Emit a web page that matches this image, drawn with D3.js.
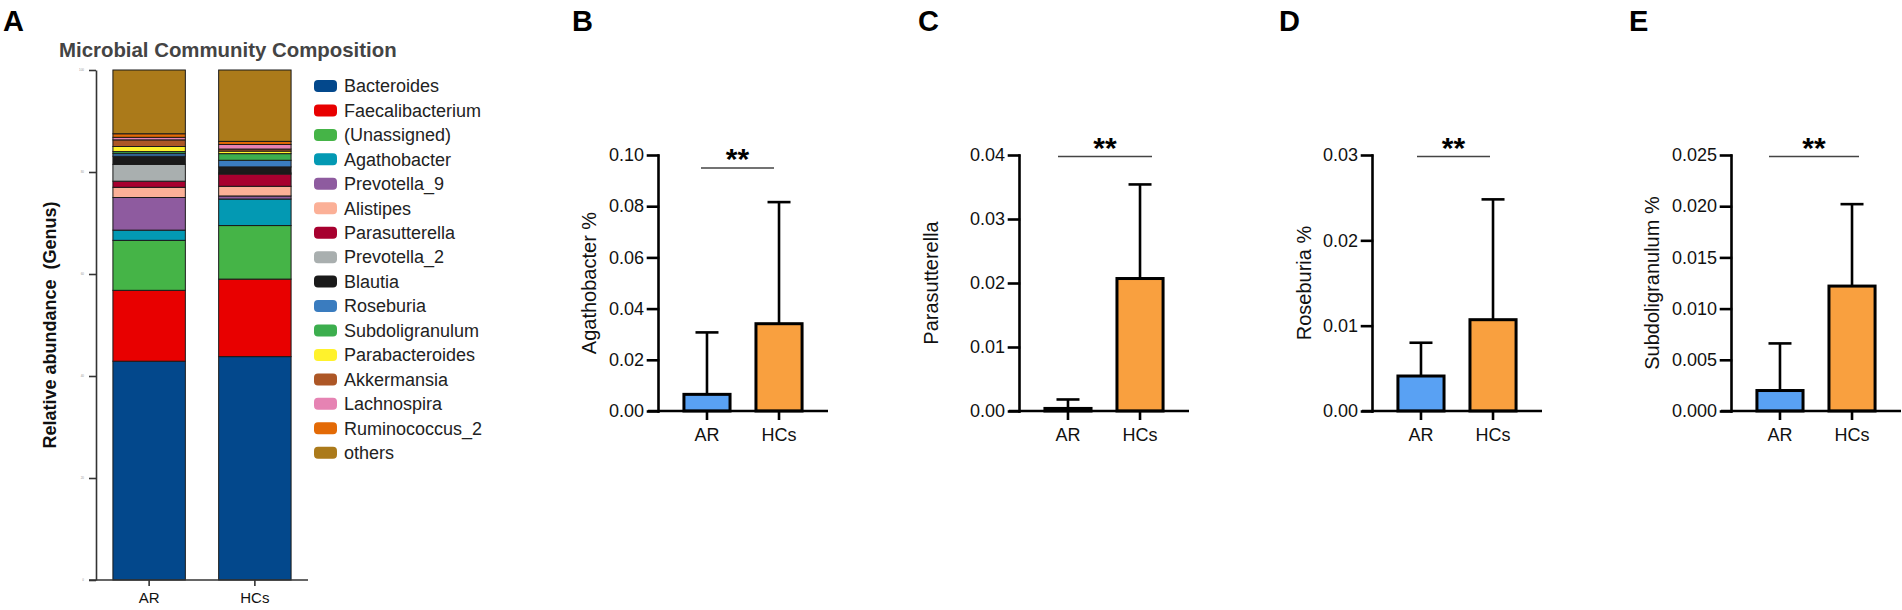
<!DOCTYPE html>
<html>
<head>
<meta charset="utf-8">
<script src="https://cdn.jsdelivr.net/npm/d3@7"></script>
<style>
  body { margin: 0; background: #fff; }
  #fig { width: 1902px; height: 610px; }
  text { font-family: "Liberation Sans", Arial, Helvetica, sans-serif; }
</style>
</head>
<body>
<div id="fig"></div>
<script>
var groups = ["AR", "HCs"];

// Panel A: genus composition (%), bottom of the stack first
var genera = ["Bacteroides", "Faecalibacterium", "(Unassigned)", "Agathobacter", "Prevotella_9",
  "Alistipes", "Parasutterella", "Prevotella_2", "Blautia", "Roseburia", "Subdoligranulum",
  "Parabacteroides", "Akkermansia", "Lachnospira", "Ruminococcus_2", "others"];
var arAbund = [42.9, 13.9, 9.8, 2.0, 6.4, 2.0, 1.2, 3.3, 1.6, 0.5, 0.4, 1.0, 1.3, 0.5, 0.7, 12.5];
var hcAbund = [43.8, 15.2, 10.5, 5.2, 0.6, 1.9, 2.4, 0.2, 1.2, 1.3, 1.3, 0.5, 0.4, 0.9, 0.6, 14.0];
var aTicks = [0, 20, 40, 60, 80, 100];
var genusColors = ["#03488c", "#e80000", "#45b447", "#0399b3", "#8e5b9f", "#fbb097", "#a7002f",
  "#a9afaf", "#1a1a1a", "#3a7cbf", "#3cae4e", "#fff22c", "#ad5726", "#e683b3", "#e36a06", "#ab7a1a"];

// Panels B-E: mean and SD of each genus per group
var panelLetters = ["B", "C", "D", "E"];
var panelLabels = ["Agathobacter %", "Parasutterella", "Roseburia %", "Subdoligranulum %"];
var arMean = [0.0065, 0.0004, 0.0041, 0.0020];
var hcMean = [0.0341, 0.0207, 0.0107, 0.0122];
var arSD = [0.0242, 0.0014, 0.0039, 0.0046];
var hcSD = [0.0475, 0.0147, 0.0141, 0.0080];
var yMax = [0.10, 0.04, 0.03, 0.025];
var yStep = [0.02, 0.01, 0.01, 0.005];
var yDigits = [2, 2, 2, 3];
var sigMarks = ["**", "**", "**", "**"];

var groupColors = ["#59a1f3", "#f9a03f"];

var svg = d3.select("#fig").append("svg")
  .attr("width", 1902)
  .attr("height", 610);

// ---------- panel A ----------
var aTop = 70, aBottom = 580, aLeft = 96, aRight = 308;
var aY = d3.scaleLinear().domain([0, 100]).range([aBottom, aTop]);
var aX = d3.scaleBand().domain(groups).range([aLeft, aRight]).paddingInner(0.315).paddingOuter(0.16);

var rows = groups.map(function (g, gi) {
  var r = { group: g };
  genera.forEach(function (k, i) { r[k] = gi === 0 ? arAbund[i] : hcAbund[i]; });
  return r;
});
var stacked = d3.stack().keys(genera)(rows);

svg.append("g").selectAll("g")
  .data(stacked)
  .enter().append("g")
  .attr("fill", function (d, i) { return genusColors[i]; })
  .selectAll("rect")
  .data(function (d) { return d; })
  .enter().append("rect")
  .attr("x", function (d) { return aX(d.data.group); })
  .attr("width", aX.bandwidth())
  .attr("y", function (d) { return aY(d[1]); })
  .attr("height", function (d) { return aY(d[0]) - aY(d[1]); })
  .attr("stroke", "#1a1a1a")
  .attr("stroke-width", 1);

// the original tick labels are printed so small they read as grey dots
var aYAxis = svg.append("g")
  .attr("transform", "translate(" + aLeft + ",0)")
  .call(d3.axisLeft(aY).tickValues(aTicks).tickSize(7).tickSizeOuter(0).tickPadding(5));
aYAxis.selectAll("path, line").attr("stroke", "#333").attr("stroke-width", 1.6);
aYAxis.selectAll("text").attr("font-size", 3).attr("fill", "#999");

var aXAxis = svg.append("g")
  .attr("transform", "translate(0," + aBottom + ")")
  .call(d3.axisBottom(aX).tickSize(6).tickSizeOuter(0));
aXAxis.select(".domain").remove();
aXAxis.append("line").attr("x1", aLeft - 7).attr("x2", aRight)
  .attr("stroke", "#333").attr("stroke-width", 1.6);
aXAxis.selectAll(".tick line").attr("stroke", "#333").attr("stroke-width", 1.6);
aXAxis.selectAll(".tick text")
  .attr("y", 23).attr("dy", null)
  .attr("font-size", 15).attr("fill", "#111");

svg.append("text")
  .attr("x", 3).attr("y", 31)
  .attr("font-size", 29).attr("font-weight", "bold")
  .text("A");

svg.append("text")
  .attr("x", 59).attr("y", 57)
  .attr("font-size", 20.4).attr("font-weight", "bold").attr("fill", "#444")
  .text("Microbial Community Composition");

svg.append("text")
  .attr("transform", "translate(56,325) rotate(-90)")
  .attr("text-anchor", "middle")
  .attr("font-size", 18).attr("font-weight", "bold").attr("fill", "#111")
  .style("white-space", "pre")
  .text("Relative abundance  (Genus)");

// legend
var legend = svg.append("g").selectAll("g")
  .data(genera)
  .enter().append("g")
  .attr("transform", function (d, i) { return "translate(314," + (86 + i * 24.45) + ")"; });
legend.append("rect")
  .attr("x", 0).attr("y", -6)
  .attr("width", 23).attr("height", 12)
  .attr("rx", 4)
  .attr("fill", function (d, i) { return genusColors[i]; });
legend.append("text")
  .attr("x", 30).attr("dy", "0.35em")
  .attr("font-size", 18).attr("fill", "#222")
  .text(function (d) { return d; });

// ---------- panels B-E ----------
var axisX = [658, 1019, 1372, 1731];
var letterX = [572, 918, 1279, 1629];
var labelX = [596, 938, 1311, 1659];
var sigSpan = [[43, 116], [39, 133], [45, 118], [38, 128]];
var sigDrop = [13, 1.5, 1.5, 1.5];
var pTop = 155, pBottom = 411, pWidth = 170;

panelLetters.forEach(function (letter, i) {
  var x0 = axisX[i];
  var y = d3.scaleLinear().domain([0, yMax[i]]).range([pBottom, pTop]);
  var x = d3.scaleBand().domain(groups).range([x0, x0 + pWidth]).paddingInner(0.36).paddingOuter(0.36);
  var g = svg.append("g");
  var means = [arMean[i], hcMean[i]];
  var sds = [arSD[i], hcSD[i]];

  // error bars (upper only)
  var err = g.append("g").selectAll("g")
    .data(groups)
    .enter().append("g");
  err.append("line")
    .attr("x1", function (d) { return x(d) + x.bandwidth() / 2; })
    .attr("x2", function (d) { return x(d) + x.bandwidth() / 2; })
    .attr("y1", function (d, j) { return y(means[j]); })
    .attr("y2", function (d, j) { return y(means[j] + sds[j]); })
    .attr("stroke", "#000").attr("stroke-width", 2.6);
  err.append("line")
    .attr("x1", function (d) { return x(d) + x.bandwidth() / 2 - 11.5; })
    .attr("x2", function (d) { return x(d) + x.bandwidth() / 2 + 11.5; })
    .attr("y1", function (d, j) { return y(means[j] + sds[j]); })
    .attr("y2", function (d, j) { return y(means[j] + sds[j]); })
    .attr("stroke", "#000").attr("stroke-width", 2.6);

  g.append("g").selectAll("rect")
    .data(groups)
    .enter().append("rect")
    .attr("x", function (d) { return x(d); })
    .attr("width", x.bandwidth())
    .attr("y", function (d, j) { return y(means[j]); })
    .attr("height", function (d, j) { return pBottom - y(means[j]); })
    .attr("fill", function (d, j) { return groupColors[j]; })
    .attr("stroke", "#000").attr("stroke-width", 3);

  var ticks = d3.range(0, yMax[i] + yStep[i] / 2, yStep[i]);
  var yAxis = g.append("g")
    .attr("transform", "translate(" + x0 + ",0)")
    .call(d3.axisLeft(y).tickValues(ticks).tickSize(10).tickSizeOuter(0).tickPadding(4)
      .tickFormat(d3.format("." + yDigits[i] + "f")));
  yAxis.selectAll("path, line").attr("stroke", "#000").attr("stroke-width", 2.6)
    .attr("stroke-linecap", "square");
  yAxis.selectAll("text").attr("font-size", 18).attr("fill", "#111")
    .style("font-family", "'Liberation Sans', Arial, sans-serif");

  var xAxis = g.append("g")
    .attr("transform", "translate(0," + pBottom + ")")
    .call(d3.axisBottom(x).tickSize(9).tickSizeOuter(0));
  xAxis.select(".domain").remove();
  xAxis.append("line").attr("x1", x0 - 10).attr("x2", x0 + pWidth)
    .attr("stroke", "#000").attr("stroke-width", 2.6);
  xAxis.selectAll(".tick line").attr("stroke", "#000").attr("stroke-width", 2.6);
  xAxis.selectAll(".tick text")
    .attr("y", 30).attr("dy", null)
    .attr("font-size", 18).attr("fill", "#111")
    .style("font-family", "'Liberation Sans', Arial, sans-serif");

  // significance bracket
  var sy = pTop + sigDrop[i];
  g.append("line")
    .attr("x1", x0 + sigSpan[i][0]).attr("x2", x0 + sigSpan[i][1])
    .attr("y1", sy).attr("y2", sy)
    .attr("stroke", "#444").attr("stroke-width", 1.6);
  g.append("text")
    .attr("x", x0 + (sigSpan[i][0] + sigSpan[i][1]) / 2)
    .attr("y", sy + 1)
    .attr("text-anchor", "middle")
    .attr("font-size", 30).attr("font-weight", "bold")
    .text(sigMarks[i]);

  g.append("text")
    .attr("transform", "translate(" + labelX[i] + "," + ((pTop + pBottom) / 2) + ") rotate(-90)")
    .attr("text-anchor", "middle")
    .attr("font-size", 20).attr("fill", "#111")
    .text(panelLabels[i]);

  g.append("text")
    .attr("x", letterX[i]).attr("y", 31)
    .attr("font-size", 29).attr("font-weight", "bold")
    .text(letter);
});
</script>
</body>
</html>
